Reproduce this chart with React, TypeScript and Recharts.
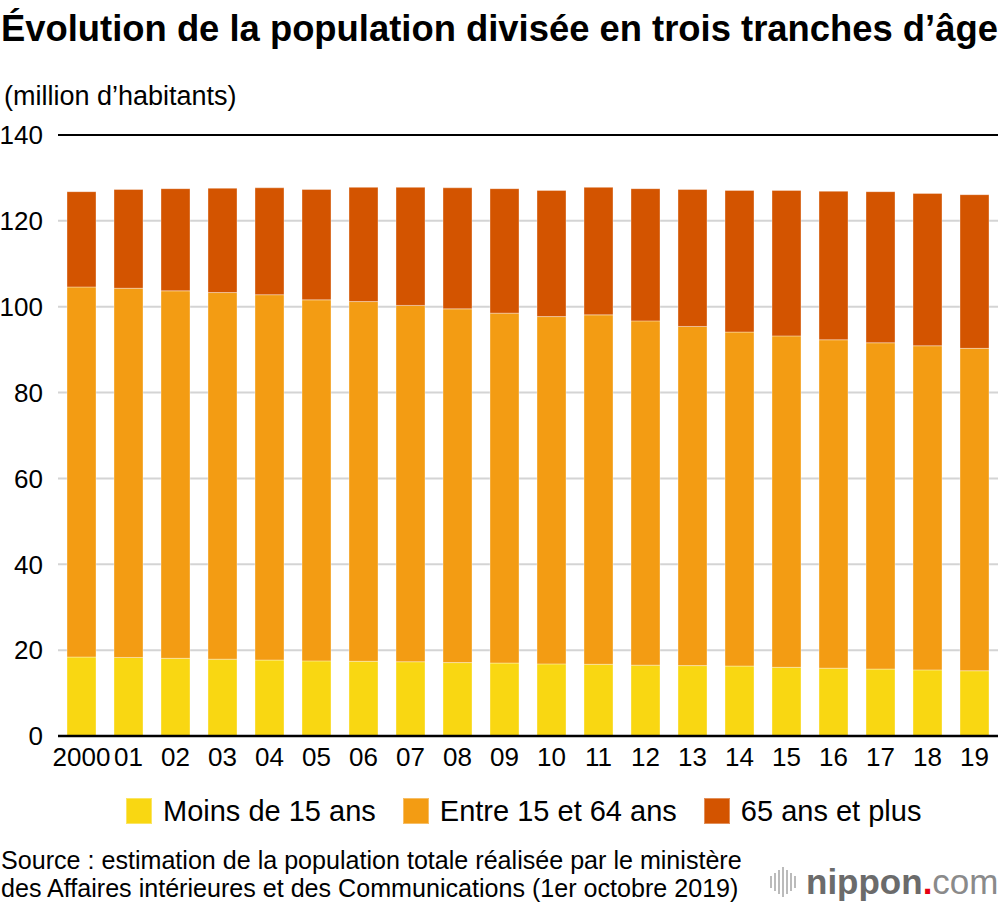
import React from "react";
import { BarChart, Bar, XAxis, YAxis, CartesianGrid, ReferenceLine } from "recharts";

const years = ["2000", "01", "02", "03", "04", "05", "06", "07", "08", "09", "10", "11", "12", "13", "14", "15", "16", "17", "18", "19"];

// millions d'habitants
const moins15 = [18.4, 18.3, 18.1, 17.9, 17.7, 17.5, 17.4, 17.3, 17.1, 17.0, 16.8, 16.7, 16.5, 16.4, 16.3, 16.0, 15.8, 15.6, 15.4, 15.2];
const entre15et64 = [86.2, 86.0, 85.6, 85.4, 85.1, 84.1, 83.8, 83.0, 82.4, 81.5, 80.9, 81.4, 80.2, 79.0, 77.8, 77.2, 76.5, 76.0, 75.5, 75.1];
const plus65 = [22.2, 23.0, 23.8, 24.3, 24.9, 25.7, 26.6, 27.5, 28.2, 29.0, 29.4, 29.7, 30.8, 31.9, 33.0, 33.9, 34.6, 35.2, 35.5, 35.8];

const yTicks = [0, 20, 40, 60, 80, 100, 120, 140];

const series = [
  { key: "moins15", name: "Moins de 15 ans", color: "#F9D712" },
  { key: "entre15et64", name: "Entre 15 et 64 ans", color: "#F39C13" },
  { key: "plus65", name: "65 ans et plus", color: "#D35400" },
];

const data = years.map((year, i) => ({
  year,
  moins15: moins15[i],
  entre15et64: entre15et64[i],
  plus65: plus65[i],
}));

const FONT = "'Liberation Sans', Arial, Helvetica, sans-serif";

function LogoBars() {
  const heights = [12, 18, 24, 30, 24, 18, 12];
  return (
    <div style={{ display: "flex", alignItems: "center", gap: 2, height: 34, marginRight: 10 }}>
      {heights.map((h, i) => (
        <div key={i} style={{ width: 2, height: h, background: "#bbbbbb" }} />
      ))}
    </div>
  );
}

export default function App() {
  return (
    <div style={{ position: "absolute", top: 0, left: 0, width: 1000, height: 908, background: "#fff", fontFamily: FONT, color: "#000", overflow: "hidden" }}>
      <div style={{ position: "absolute", top: 11, left: 1, fontSize: 36.4, lineHeight: "36px", fontWeight: 700, whiteSpace: "nowrap" }}>
        Évolution de la population divisée en trois tranches d’âge
      </div>
      <div style={{ position: "absolute", top: 83, left: 4, fontSize: 27, lineHeight: "26px", whiteSpace: "nowrap" }}>
        (million d’habitants)
      </div>

      <div style={{ position: "absolute", top: 0, left: 0 }}>
        <BarChart width={1000} height={800} data={data} margin={{ top: 135, right: 2, left: 0, bottom: 0 }}>
          <CartesianGrid vertical={false} stroke="#d4d4d4" strokeWidth={2} />
          <XAxis
            dataKey="year"
            interval={0}
            height={64}
            tickLine={false}
            tickSize={0}
            tickMargin={12}
            axisLine={{ stroke: "#000", strokeWidth: 2.5 }}
            tick={{ fill: "#000", fontSize: 26, fontFamily: FONT }}
          />
          <YAxis
            width={58}
            domain={[0, 140]}
            ticks={yTicks}
            axisLine={false}
            tickLine={false}
            tickSize={0}
            tickMargin={15}
            tick={{ fill: "#000", fontSize: 26, fontFamily: FONT }}
          />
          <ReferenceLine y={140} stroke="#000" strokeWidth={2} />
          {series.map((s) => (
            <Bar
              key={s.key}
              dataKey={s.key}
              name={s.name}
              stackId="pop"
              fill={s.color}
              stroke="#ffffff"
              strokeOpacity={0.35}
              strokeWidth={1}
              barSize={29}
              isAnimationActive={false}
            />
          ))}
        </BarChart>
      </div>

      <div style={{ position: "absolute", top: 798, left: 126, display: "flex", alignItems: "center", height: 26 }}>
        {series.map((s, i) => (
          <div key={s.key} style={{ display: "flex", alignItems: "center", marginRight: i < series.length - 1 ? 27 : 0 }}>
            <div style={{ width: 26, height: 26, background: s.color, boxSizing: "border-box", border: "1px solid rgba(255,255,255,0.35)" }} />
            <span style={{ marginLeft: 11, fontSize: 29, lineHeight: "26px", whiteSpace: "nowrap" }}>{s.name}</span>
          </div>
        ))}
      </div>

      <div style={{ position: "absolute", top: 846, left: 1, fontSize: 25.1, lineHeight: "28px", whiteSpace: "nowrap" }}>
        <div>Source : estimation de la population totale réalisée par le ministère</div>
        <div>des Affaires intérieures et des Communications (1er octobre 2019)</div>
      </div>

      <div style={{ position: "absolute", top: 862, left: 770, display: "flex", alignItems: "center", height: 40 }}>
        <LogoBars />
        <span style={{ fontSize: 35, lineHeight: "40px", whiteSpace: "nowrap" }}>
          <span style={{ fontWeight: 700, color: "#6b6b6b" }}>nippon</span>
          <span style={{ fontWeight: 700, color: "#e60012" }}>.</span>
          <span style={{ color: "#8a8a8a" }}>com</span>
        </span>
      </div>
    </div>
  );
}
